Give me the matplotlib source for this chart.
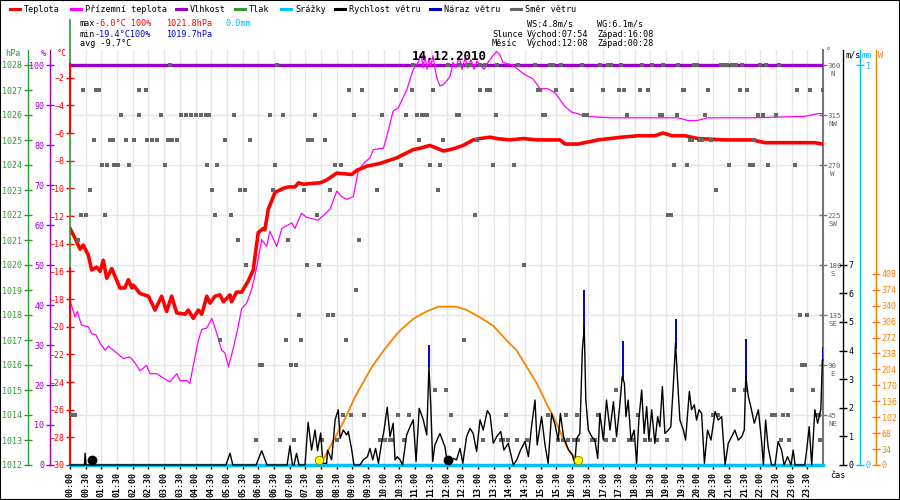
import numpy as np
import matplotlib
matplotlib.use("Agg")
import matplotlib.pyplot as plt
from matplotlib.lines import Line2D
from matplotlib.patches import Rectangle
from matplotlib.transforms import blended_transform_factory

plt.rcParams['font.family'] = ['DejaVu Sans Mono']
plt.rcParams['font.size'] = 6.1

# ---------------------------------------------------------------- data (hours of 14.12.2010)
temp_t = [0.00, 0.16, 0.32, 0.42, 0.58, 0.69, 0.85, 0.96, 1.06, 1.17,
          1.33, 1.59, 1.75, 1.86, 1.97, 2.02, 2.23, 2.50, 2.71, 2.92,
          3.08, 3.24, 3.40, 3.67, 3.77, 3.93, 4.09, 4.20, 4.36, 4.46,
          4.62, 4.78, 4.89, 5.10, 5.15, 5.31, 5.47, 5.68, 5.84, 6.00,
          6.16, 6.21, 6.32, 6.43, 6.53, 6.80, 6.96, 7.17, 7.28, 7.44,
          7.97, 8.18, 8.50, 8.98, 9.14, 9.46, 9.88, 10.41, 10.94, 11.15,
          11.47, 11.69, 11.90, 12.11, 12.27, 12.53, 12.85, 13.07, 13.39, 13.60,
          14.02, 14.45, 14.87, 15.24, 15.62, 15.78, 16.19, 16.83, 17.59, 18.10,
          18.64, 18.90, 19.19, 19.60, 20.01, 20.88, 21.74, 22.15, 23.74, 24.00]
temp_c = [-12.9, -13.6, -14.4, -14.1, -14.8, -15.9, -15.7, -16.0, -15.2, -16.5,
          -15.8, -17.2, -17.2, -16.6, -17.2, -17.0, -17.6, -17.8, -18.8, -17.8,
          -18.9, -17.8, -19.0, -19.1, -18.8, -19.4, -18.8, -19.1, -17.8, -18.3,
          -17.8, -17.7, -18.2, -17.7, -18.2, -17.5, -17.5, -16.7, -15.9, -13.2,
          -12.9, -13.0, -11.5, -10.9, -10.3, -10.0, -9.9, -9.9, -9.6, -9.7,
          -9.6, -9.4, -8.9, -9.0, -8.7, -8.4, -8.2, -7.8, -7.2, -7.1,
          -6.9, -7.1, -7.3, -7.2, -7.1, -6.9, -6.5, -6.4, -6.3, -6.4,
          -6.5, -6.4, -6.5, -6.5, -6.5, -6.8, -6.8, -6.5, -6.3, -6.2,
          -6.2, -6.0, -6.2, -6.2, -6.4, -6.5, -6.5, -6.7, -6.7, -6.8]

feel_t = [0.00, 0.16, 0.23, 0.37, 0.58, 0.69, 0.83, 0.96, 1.12, 1.22,
          1.49, 1.70, 1.91, 2.07, 2.23, 2.44, 2.55, 2.76, 2.97, 3.19,
          3.40, 3.51, 3.72, 3.82, 3.93, 4.09, 4.20, 4.36, 4.52, 4.68,
          4.83, 4.94, 5.05, 5.20, 5.36, 5.47, 5.63, 5.79, 5.95, 6.11,
          6.27, 6.37, 6.59, 6.75, 7.07, 7.17, 7.38, 7.54, 7.91, 8.29,
          8.50, 8.66, 8.82, 9.03, 9.19, 9.40, 9.56, 9.67, 9.99, 10.09,
          10.30, 10.46, 10.73, 10.94, 11.10, 11.19, 11.25, 11.31, 11.38, 11.44,
          11.50, 11.57, 11.63, 11.69, 11.79, 11.90, 12.02, 12.11, 12.21, 12.30,
          12.40, 12.49, 12.59, 12.68, 12.78, 12.88, 12.97, 13.07, 13.20, 13.32,
          13.45, 13.60, 13.71, 13.80, 13.96, 14.12, 14.28, 14.44, 14.60, 14.76,
          14.98, 15.23, 15.46, 15.78, 16.00, 16.19, 16.41, 17.27, 19.38, 19.70,
          19.98, 20.33, 21.19, 21.74, 23.42, 23.84, 24.00]
feel_c = [-18.1, -19.3, -18.9, -19.9, -20.0, -20.5, -20.6, -21.2, -21.7, -21.4,
          -21.9, -22.3, -22.2, -22.6, -23.2, -22.8, -23.4, -23.4, -23.7, -24.0,
          -23.4, -23.9, -23.9, -24.1, -22.8, -21.0, -20.2, -20.1, -19.4, -20.5,
          -21.7, -21.9, -22.9, -21.6, -20.0, -18.7, -18.3, -17.3, -15.7, -13.7,
          -14.2, -13.1, -14.2, -12.9, -12.5, -12.9, -11.8, -12.1, -12.3, -11.5,
          -10.2, -10.6, -10.8, -10.6, -8.7, -8.1, -7.8, -7.2, -7.1, -6.3,
          -4.4, -4.2, -2.9, -1.4, -0.9, -0.3, -1.3, -0.4, -1.4, -0.6,
          -1.2, -0.4, -1.3, -2.0, -2.6, -2.5, -2.2, -1.9, -0.9, -1.3,
          -0.5, -1.4, -0.6, -1.3, -0.7, -1.4, -0.8, -1.1, -1.4, -0.9,
          -0.5, -0.1, -0.4, -0.9, -1.0, -1.1, -1.4, -1.7, -1.9, -2.1,
          -2.8, -2.8, -3.1, -4.1, -4.5, -4.6, -4.8, -4.9, -4.9, -5.1,
          -5.1, -4.9, -4.9, -4.9, -4.8, -4.6, -4.6]

hum_t = [0.0, 24.0]
hum_pct = [100, 100]

rain_t = [0.0, 24.0]
rain_mm = [0.0, 0.0]

wind_t = [0.00, 0.46, 0.48, 0.51, 4.97, 5.10, 5.19, 5.93, 6.11, 6.28,
          6.92, 7.01, 7.09, 7.14, 7.22, 7.30, 7.49, 7.59, 7.70, 7.81,
          7.89, 7.99, 8.06, 8.18, 8.21, 8.34, 8.45, 8.55, 8.61, 8.71,
          8.82, 8.87, 8.98, 9.05, 9.24, 9.35, 9.48, 9.56, 9.65, 9.74,
          9.83, 9.93, 10.01, 10.11, 10.20, 10.30, 10.36, 10.43, 10.52, 10.60,
          10.73, 10.84, 10.94, 11.03, 11.13, 11.26, 11.37, 11.44, 11.50, 11.56,
          11.63, 11.79, 11.95, 12.01, 12.11, 12.22, 12.32, 12.43, 12.52, 12.64,
          12.75, 12.85, 12.96, 13.07, 13.17, 13.30, 13.39, 13.49, 13.60, 13.73,
          13.83, 13.97, 14.13, 14.24, 14.36, 14.50, 14.61, 14.71, 14.82, 14.89,
          15.03, 15.14, 15.24, 15.35, 15.46, 15.56, 15.63, 15.73, 15.89, 16.01,
          16.09, 16.15, 16.25, 16.33, 16.39, 16.44, 16.52, 16.63, 16.73, 16.82,
          16.89, 17.00, 17.10, 17.21, 17.32, 17.42, 17.53, 17.60, 17.67, 17.72,
          17.79, 17.88, 17.98, 18.06, 18.13, 18.22, 18.30, 18.38, 18.45, 18.54,
          18.64, 18.73, 18.80, 18.88, 18.96, 19.07, 19.15, 19.23, 19.30, 19.37,
          19.44, 19.55, 19.62, 19.74, 19.81, 19.90, 19.97, 20.05, 20.13, 20.22,
          20.32, 20.43, 20.56, 20.66, 20.77, 20.88, 20.98, 21.09, 21.19, 21.30,
          21.41, 21.49, 21.54, 21.62, 21.70, 21.81, 21.94, 22.04, 22.10, 22.17,
          22.25, 22.36, 22.47, 22.57, 22.68, 22.76, 22.87, 22.98, 23.05, 23.11,
          23.42, 23.48, 23.56, 23.64, 23.74, 23.83, 23.90, 23.93, 23.98, 24.00]
wind_ms = [0, 0, 0.41, 0, 0, 0.41, 0, 0, 0.50, 0,
           0, 0.67, 0, 0, 0.41, 0, 0, 1.49, 0.52, 1.22,
           0.50, 1.12, 0.06, 0.06, 0.52, 0.18, 1.58, 1.93, 0.93, 1.22,
           1.05, 1.17, 0.52, 0, 0, 0.18, 0.29, 0.58, 0.18, 0.58,
           0.06, 0.76, 1.22, 2.02, 0.99, 1.46, 0.18, 0.29, 0.18, 0,
           1.05, 1.34, 1.58, 0.12, 1.98, 1.58, 1.05, 3.44, 2.04, 0.12,
           0.70, 1.10, 0.64, 0.18, 0.06, 0.23, 0.18, 0.58, 0.06, 0.99,
           1.28, 1.10, 0.47, 1.58, 1.22, 1.90, 1.75, 0.76, 0.99, 1.17,
           0.52, 0.76, 0, 0.18, 0.52, 0.82, 0.29, 1.34, 2.27, 0.70,
           1.69, 0.70, 0.06, 1.80, 1.40, 0.87, 1.80, 0.99, 0.52, 0.35,
           0.06, 0.93, 1.10, 4.02, 4.84, 2.27, 1.22, 0.99, 0.87, 0.23,
           1.81, 0.87, 2.27, 1.22, 2.21, 0.99, 2.16, 3.09, 2.86, 1.69,
           2.27, 0.87, 1.22, 0.06, 1.57, 2.62, 1.10, 2.04, 0.87, 1.93,
           0.76, 1.69, 1.34, 2.74, 1.10, 1.22, 1.34, 2.80, 4.26, 2.86,
           1.57, 1.22, 0.87, 2.57, 1.93, 2.10, 1.57, 1.93, 1.81, 0.06,
           1.22, 0.87, 1.87, 1.57, 1.69, 0, 0.76, 0.99, 1.22, 0.87,
           0.99, 1.22, 3.09, 2.39, 2.04, 1.46, 1.93, 0.87, 0, 1.57,
           0.64, 0, 0, 0.82, 0.52, 0, 0.29, 0, 0.52, 0,
           0, 0.52, 1.34, 0, 1.93, 1.46, 1.81, 1.93, 3.67, 3.67]

gust_t = [11.44, 16.37, 17.63, 19.31, 21.55, 23.99]
gust_ms = [4.20, 6.12, 4.32, 5.10, 4.40, 4.14]

sun_t = [7.97, 8.07, 8.29, 8.55, 8.82, 9.08, 9.35, 9.62, 9.88, 10.20,
         10.52, 10.94, 11.37, 11.74, 12.32, 12.64, 13.07, 13.49, 13.92, 14.24,
         14.56, 14.88, 15.19, 15.51, 15.83, 16.09, 16.19]
sun_wm2 = [0, 11, 39, 71, 106, 145, 177, 209, 234, 262,
           287, 312, 328, 338, 338, 331, 315, 297, 266, 244,
           209, 174, 131, 89, 39, 15, 0]

sunrise_set_t = [7.94, 16.19]
moonrise_set_t = [0.70, 12.04]

# wind direction samples, grouped by compass sector (hours)
dir_N = [3.19, 6.60, 10.93, 12.05, 12.43, 12.65, 12.75, 13.07, 13.23, 13.61, 14.28, 14.82,
         15.30, 15.39, 15.65, 16.32, 16.89, 17.15, 17.24, 17.56, 18.23, 18.55, 18.90, 19.38,
         19.89, 19.98, 20.75, 20.84, 20.94, 21.10, 21.23, 21.42, 21.99, 22.18, 22.60]
dir_NNW = [0.41, 0.83, 0.92, 2.20, 2.42, 8.89, 9.31, 10.39, 10.90, 11.57, 13.07, 13.29,
           13.39, 14.92, 14.98, 15.49, 16.00, 16.99, 17.50, 17.66, 18.17, 18.42, 19.54, 19.57,
           20.34, 21.36, 21.58, 23.17, 23.59, 23.99]
dir_NW = [1.63, 2.20, 2.90, 3.54, 3.70, 3.86, 4.02, 4.18, 4.33, 4.43, 5.23, 6.37, 6.79,
          7.81, 9.05, 9.94, 10.71, 11.06, 11.22, 11.28, 11.38, 12.33, 12.40, 13.58, 15.08,
          15.14, 16.38, 16.48, 17.75, 18.81, 18.87, 19.35, 20.24, 21.93, 22.09, 22.50]
dir_WNW = [0.76, 1.27, 1.37, 1.78, 2.04, 2.45, 2.61, 2.77, 3.12, 3.25, 3.41, 4.94, 5.74,
           7.59, 7.71, 8.13, 11.12, 11.89, 12.97, 19.76, 19.82, 20.05, 20.14, 20.43, 21.80]
dir_W = [1.02, 1.18, 1.40, 1.53, 1.88, 3.03, 4.37, 4.69, 6.53, 8.45, 8.64, 10.55, 11.47,
         11.79, 13.48, 14.15, 19.25, 19.67, 21.00, 21.67, 21.77, 22.25, 23.11]
dir_WSW = [0.64, 4.53, 5.42, 5.58, 6.47, 7.46, 8.29, 9.79, 11.73, 20.59]
dir_SW = [0.35, 0.51, 1.12, 4.62, 5.13, 7.87, 12.91, 19.06, 19.16]
dir_SSW = [0.25, 5.35, 6.95, 9.21]
dir_S = [5.61, 7.55, 7.94, 14.47]
dir_SSE = [9.12]
dir_SE = [7.30, 8.22, 8.38, 23.27, 23.49]
dir_ESE = [4.78, 6.88, 7.36, 8.80, 12.56]
dir_E = [6.06, 6.12, 7.04, 7.20, 23.33, 23.43]
dir_ENE = [11.63, 11.98, 17.40, 21.16, 21.51, 23.01, 23.68]
dir_NE = [0.03, 0.16, 8.70, 8.96, 9.37, 10.45, 10.80, 12.14, 13.90, 15.24, 15.81, 16.16,
          16.83, 18.10, 20.49, 20.65, 22.37, 22.47, 22.73, 22.89, 23.78, 23.87]
dir_NNE = [5.93, 6.69, 7.14, 8.03, 8.51, 9.88, 10.04, 10.20, 10.26, 10.65, 12.24, 13.16,
           13.74, 13.80, 13.96, 14.25, 14.57, 15.55, 15.71, 15.87, 16.06, 16.19, 16.64, 16.73,
           17.08, 17.34, 17.82, 17.91, 18.33, 18.49, 18.71, 19.03, 22.66, 22.92, 23.90]
sector_deg = [360, 337.5, 315, 292.5, 270, 247.5, 225, 202.5, 180, 157.5, 135, 112.5,
              90, 67.5, 45, 22.5]
sector_times = [dir_N, dir_NNW, dir_NW, dir_WNW, dir_W, dir_WSW, dir_SW, dir_SSW, dir_S,
                dir_SSE, dir_SE, dir_ESE, dir_E, dir_ENE, dir_NE, dir_NNE]

time_labels = [f"{h:02d}:{m:02d}" for h in range(24) for m in (0, 30)]
dir_ticks = [45, 90, 135, 180, 225, 270, 315, 360]
dir_names = ["NE", "E", "SE", "S", "SW", "W", "NW", "N"]

# ---------------------------------------------------------------- colours
C_TEMP = '#ff0000'
C_FEEL = '#ff00ff'
C_HUM = '#9900cc'
C_PRES = '#339933'
C_RAIN = '#00bfff'
C_WIND = '#000000'
C_GUST = '#0000cc'
C_DIR = '#666666'
C_SUN = '#ff8000'
C_GRID = '#e6e6e6'

# ---------------------------------------------------------------- layout (pixels)
FIG_W, FIG_H = 900, 500
X0, X1, Y_TOP, Y_BOT = 70, 823, 50, 465
PLOT_W = X1 - X0
TICK_FS = 6.0
DIR_FS = 5.4


def fx(px):
    return px / FIG_W


def fy(py):
    return 1 - py / FIG_H


def one_spine(a, side, offset_px, color, lw=1.0):
    for s in a.spines.values():
        s.set_visible(False)
    sp = a.spines[side]
    sp.set_visible(True)
    sp.set_position(('axes', (0 if side == 'left' else 1) + offset_px / PLOT_W))
    sp.set_color(color)
    sp.set_linewidth(lw)
    a.yaxis.set_ticks_position(side)
    a.tick_params(axis='y', direction='inout', length=6, width=1, color=color,
                  labelcolor=color, labelsize=TICK_FS, pad=1)


fig = plt.figure(figsize=(9, 5), dpi=100)
fig.patch.set_facecolor('white')
ax = fig.add_axes([fx(X0), fy(Y_BOT), PLOT_W / FIG_W, (Y_BOT - Y_TOP) / FIG_H])
ax.set_xlim(0, 24)
ax.set_ylim(0, 373.5)

ax_p = ax.twinx()
ax_s = ax.twinx()
ax_h = ax.twinx()
ax_t = ax.twinx()
ax_d = ax.twinx()
ax_r = ax.twinx()
ax_w = ax.twinx()

# base axis: grid, time axis and wind-direction scale
for s in ax.spines.values():
    s.set_visible(False)
ax.spines['bottom'].set_visible(True)
ax.spines['bottom'].set_color('black')
ax.spines['right'].set_visible(True)
ax.spines['right'].set_color('#777777')
ax.spines['right'].set_linewidth(1.5)
ax.yaxis.set_ticks_position('right')
ax.set_yticks(dir_ticks)
ax.set_yticklabels([str(d) for d in dir_ticks])
ax.tick_params(axis='y', direction='inout', length=6, width=1, color='#777777',
               labelcolor=C_DIR, labelsize=DIR_FS, pad=0.5)
for d, name in zip(dir_ticks, dir_names):
    ax.annotate(name, xy=(1, d), xycoords=('axes fraction', 'data'), xytext=(7.0, -6.2),
                textcoords='offset points', ha='center', va='center', color=C_DIR,
                fontsize=DIR_FS, annotation_clip=False)
ax.set_xticks(np.arange(0, 24, 0.5))
ax.set_xticklabels(time_labels, rotation=90, fontweight='bold', fontsize=6)
ax.tick_params(axis='x', direction='out', length=3, width=1, pad=2)
ax.grid(True, color=C_GRID, lw=1.0)
ax.set_axisbelow(True)

# pressure scale (no readings this day)
ax_p.set_ylim(1012, 1012 + 415 / 25)
one_spine(ax_p, 'left', -42, C_PRES)
ax_p.set_yticks(range(1012, 1029))

# solar radiation
ax_s.set_ylim(0, 415 / 0.4685)
one_spine(ax_s, 'right', 53, C_SUN)
ax_s.set_yticks(range(0, 409, 34))
ax_s.plot(sun_t, sun_wm2, color=C_SUN, lw=1.3)

# humidity
ax_h.set_ylim(0, 103.75)
one_spine(ax_h, 'left', -20, C_HUM)
ax_h.set_yticks(range(0, 101, 10))
ax_h.plot(hum_t, hum_pct, color=C_HUM, lw=2.4)

# temperature and wind chill
ax_t.set_ylim(-30, 0)
one_spine(ax_t, 'left', 0, C_TEMP)
ax_t.spines['left'].set_visible(False)
ax_t.set_yticks(range(-30, -1, 2))
ax_t.plot(feel_t, feel_c, color=C_FEEL, lw=0.9)
ax_t.plot(temp_t, temp_c, color=C_TEMP, lw=2.6)
blend = blended_transform_factory(ax_t.transAxes, ax_t.transData)
ax_t.plot([0, 0], [0, (Y_BOT - 20) / (Y_BOT - Y_TOP)], color=C_PRES, lw=1.2,
          transform=ax_t.transAxes, clip_on=False)
ax_t.plot([0, 0], [-6.0, -1.0], color=C_TEMP, lw=1.5, transform=blend, clip_on=False)
ax_t.plot([0, 0], [-30, -15.75], color=C_TEMP, lw=1.5, transform=blend, clip_on=False)

# wind direction squares
ax_d.set_ylim(0, 373.5)
for s in ax_d.spines.values():
    s.set_visible(False)
ax_d.set_yticks([])
for deg, times in zip(sector_deg, sector_times):
    ax_d.plot(times, [deg] * len(times), ls='none', marker='s', ms=3.4, mew=0,
              color=C_DIR)

# precipitation
ax_r.set_ylim(0, 1.0375)
one_spine(ax_r, 'right', 37, C_RAIN)
ax_r.set_yticks([0, 1])
ax_r.plot(rain_t, rain_mm, color=C_RAIN, lw=2.5, clip_on=False)

# wind speed and gusts (gust spikes rise from the wind trace)
ax_w.set_ylim(0, 14.5)
one_spine(ax_w, 'right', 20, C_WIND)
ax_w.set_yticks(range(0, 8))
gust_base = np.interp(gust_t, wind_t, wind_ms)
ax_w.vlines(gust_t, gust_base, gust_ms, color=C_GUST, lw=1.4)
ax_w.plot(wind_t, wind_ms, color=C_WIND, lw=1.0, clip_on=False)
ax_w.plot(sunrise_set_t, [0.17] * len(sunrise_set_t), ls='none', marker='o', ms=6,
          mfc='#ffff00', mec='#8a8a00', mew=0.7)
ax_w.plot(moonrise_set_t, [0.17] * len(moonrise_set_t), ls='none', marker='o', ms=6,
          color='black')

# ---------------------------------------------------------------- texts
fig.text(fx(449), fy(57), "14.12.2010", ha='center', va='center', fontsize=9,
         fontweight='bold')
fig.text(fx(5), fy(54), "hPa", color=C_PRES, va='center')
fig.text(fx(41), fy(53), "%", color=C_HUM, va='center')
fig.text(fx(57), fy(53), "°C", color=C_TEMP, va='center')
fig.text(fx(826), fy(52), "°", color=C_DIR, va='center')
fig.text(fx(845), fy(55), "m/s", color='black', va='center')
fig.text(fx(862), fy(55), "mm", color=C_RAIN, va='center')
fig.text(fx(878), fy(55), "W", color=C_SUN, va='center')
fig.text(fx(830), fy(476), "čas", color='black', va='center')

legend_items = [(10, C_TEMP, "Teplota"), (71, C_FEEL, "Přízemní teplota"),
                (176, C_HUM, "Vlhkost"), (235, C_PRES, "Tlak"), (281, C_RAIN, "Srážky"),
                (335, C_WIND, "Rychlost větru"), (430, C_GUST, "Náraz větru"),
                (511, C_DIR, "Směr větru")]
for x0, col, label in legend_items:
    fig.add_artist(Line2D([fx(x0), fx(x0 + 10)], [fy(9), fy(9)], color=col, lw=2.2,
                          transform=fig.transFigure))
    fig.text(fx(x0 + 14), fy(9), label, va='center')

stats = [(80, 24, "max", 'black'), (95, 24, "-6.0°C 100%", C_TEMP),
         (166, 24, "1021.8hPa", C_TEMP), (226, 24, "0.0mm", C_RAIN),
         (80, 34, "min", 'black'), (95, 34, "-19.4°C100%", C_GUST),
         (166, 34, "1019.7hPa", C_GUST), (80, 44, "avg -9.7°C", 'black'),
         (527, 24, "WS:4.8m/s", 'black'), (597, 24, "WG:6.1m/s", 'black'),
         (492, 34, "Slunce", 'black'), (527, 34, "Východ:07:54", 'black'),
         (597, 34, "Západ:16:08", 'black'), (492, 44, "Měsíc", 'black'),
         (527, 44, "Východ:12:08", 'black'), (597, 44, "Západ:00:28", 'black')]
for x0, y0, text, col in stats:
    fig.text(fx(x0), fy(y0), text, color=col, va='center')

fig.add_artist(Rectangle((0, 0), 1, 1, transform=fig.transFigure, fill=False,
                         ec='black', lw=1.5))

fig.savefig("out.png", dpi=100, facecolor='white')
